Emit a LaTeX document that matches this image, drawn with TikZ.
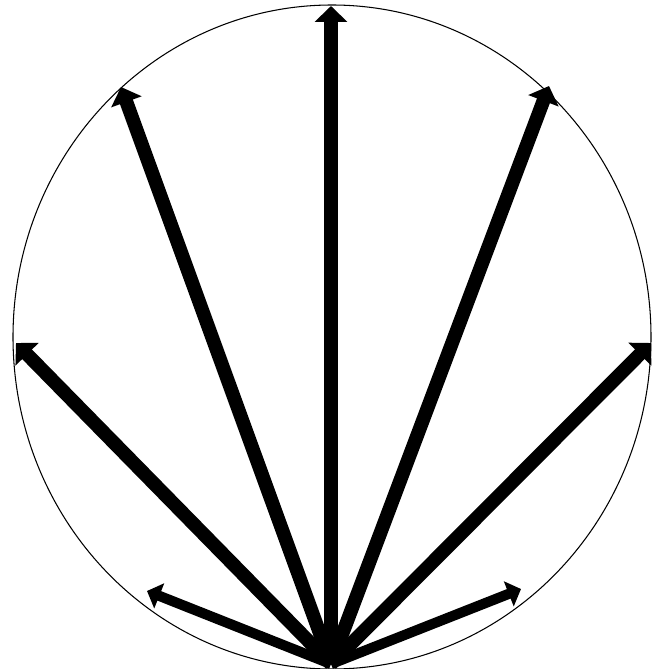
\documentclass[tikz,border=0pt]{standalone}
\usepackage{tikz}
\usetikzlibrary{arrows.meta}
\tikzset{
  ray/.style={line width=7.8pt,-{Triangle[length=9pt,width=18pt]}},
  shortray/.style={line width=5.8pt,-{Triangle[length=7.5pt,width=15pt]}}
}

\begin{document}
\begin{tikzpicture}[x=0.02cm,y=-0.02cm]
      \useasboundingbox (0,0) rectangle (662,669);
      \draw[line width=0.6pt] (332,337) ellipse [x radius=319,y radius=332];
      % source point and the ends of the rays
      \coordinate (src) at (331,664);
      \coordinate (top) at (331,6);
      \coordinate (upleft) at (121,87);
      \coordinate (upright) at (549,86);
      \coordinate (left) at (16,343);
      \coordinate (right) at (651,343);
      \coordinate (lowleft) at (147,591);
      \coordinate (lowright) at (521,589);
      \foreach \e in {top,upleft,upright,left,right}
        \draw[ray] (src) -- (\e);
      \foreach \e in {lowleft,lowright}
        \draw[shortray] (src) -- (\e);
    \end{tikzpicture}
\end{document}
